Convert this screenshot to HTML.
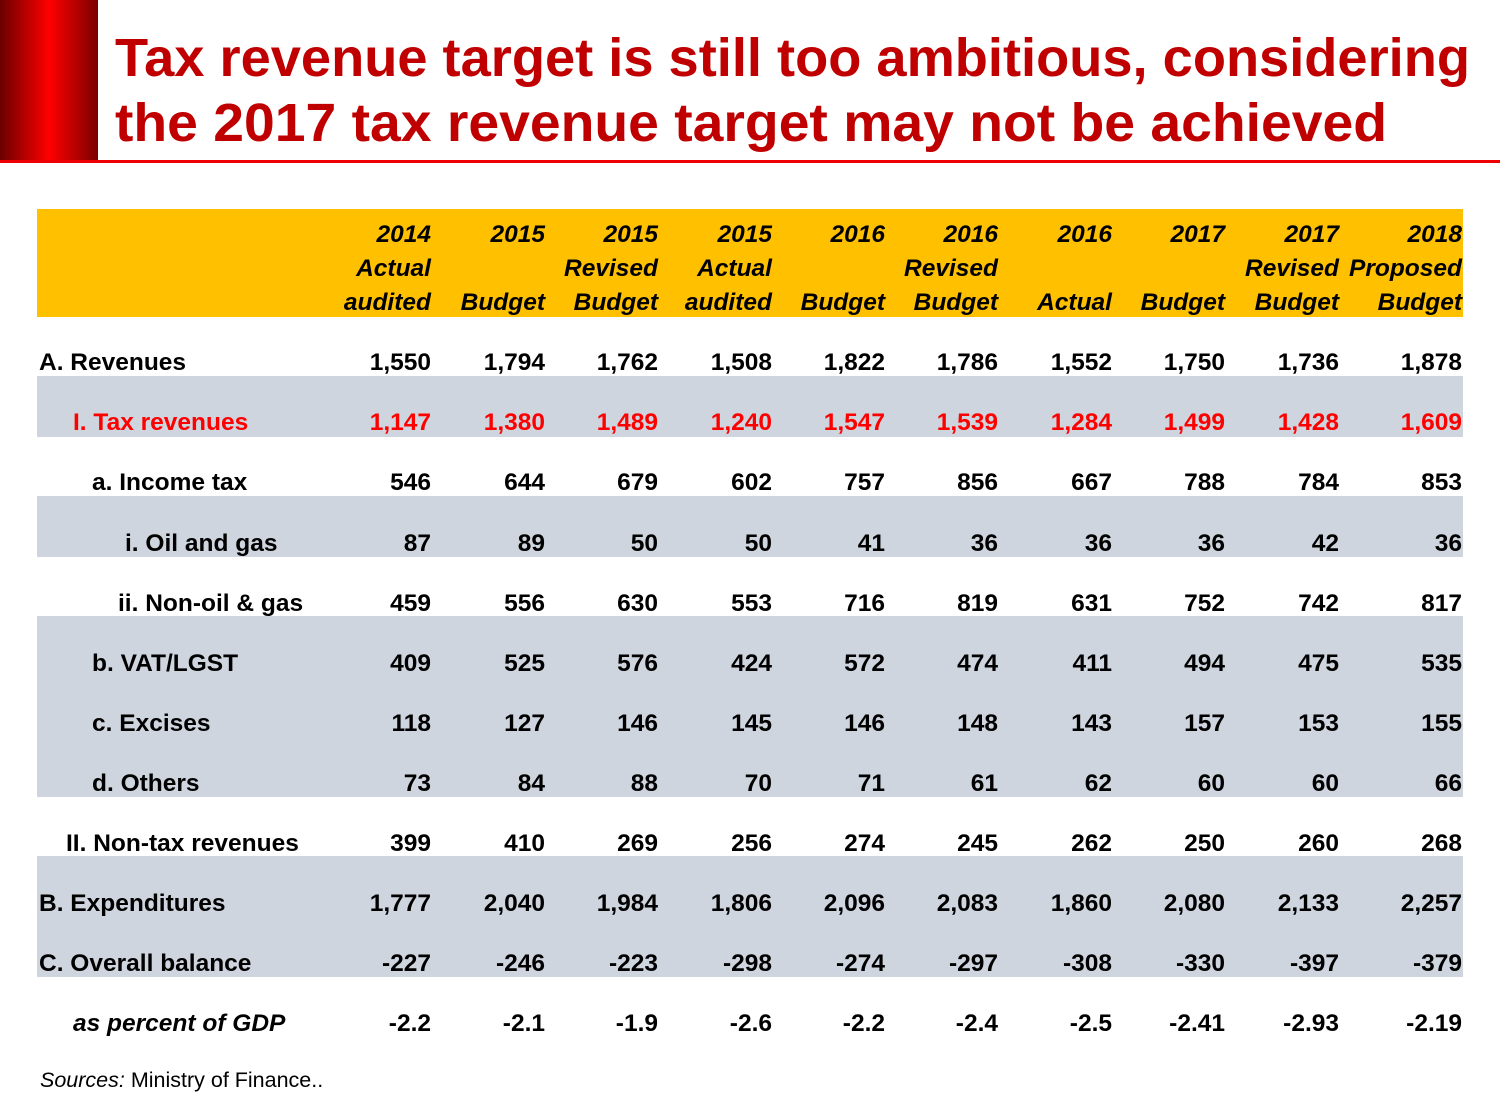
<!DOCTYPE html>
<html><head><meta charset="utf-8"><style>
html,body{margin:0;padding:0;background:#fff;}
svg{display:block;}
</style></head><body>
<svg width="1500" height="1100" viewBox="0 0 1500 1100" xmlns="http://www.w3.org/2000/svg" font-family="'Liberation Sans', sans-serif">
<defs>
<linearGradient id="rg" x1="0" x2="1" y1="0" y2="0">
<stop offset="0" stop-color="#6a0000"/>
<stop offset="0.5" stop-color="#ff0000"/>
<stop offset="1" stop-color="#7a0000"/>
</linearGradient>
</defs>
<rect x="0" y="0" width="98" height="162" fill="url(#rg)"/>
<rect x="0" y="160" width="1500" height="3" fill="#ee0000"/>
<g fill="#c00000" font-weight="bold" font-size="54">
<text x="115" y="76" textLength="1355" lengthAdjust="spacingAndGlyphs">Tax revenue target is still too ambitious, considering</text>
<text x="115" y="141" textLength="1272" lengthAdjust="spacingAndGlyphs">the 2017 tax revenue target may not be achieved</text>
</g>
<rect x="37" y="209" width="1426" height="108" fill="#ffc000"/>
<rect x="37" y="376" width="1426" height="61" fill="#cfd5de"/>
<rect x="37" y="496" width="1426" height="61" fill="#cfd5de"/>
<rect x="37" y="616" width="1426" height="181" fill="#cfd5de"/>
<rect x="37" y="856" width="1426" height="121" fill="#cfd5de"/>
<g font-weight="bold" font-style="italic" font-size="24.5" text-anchor="end" fill="#000">
<text x="431" y="242">2014</text><text x="431" y="276">Actual</text><text x="431" y="310">audited</text>
<text x="545" y="242">2015</text><text x="545" y="310">Budget</text>
<text x="658" y="242">2015</text><text x="658" y="276">Revised</text><text x="658" y="310">Budget</text>
<text x="772" y="242">2015</text><text x="772" y="276">Actual</text><text x="772" y="310">audited</text>
<text x="885" y="242">2016</text><text x="885" y="310">Budget</text>
<text x="998" y="242">2016</text><text x="998" y="276">Revised</text><text x="998" y="310">Budget</text>
<text x="1112" y="242">2016</text><text x="1112" y="310">Actual</text>
<text x="1225" y="242">2017</text><text x="1225" y="310">Budget</text>
<text x="1339" y="242">2017</text><text x="1339" y="276">Revised</text><text x="1339" y="310">Budget</text>
<text x="1462" y="242">2018</text><text x="1462" y="276">Proposed</text><text x="1462" y="310">Budget</text>
</g>
<g font-weight="bold" font-size="24.5" fill="#000">
<text x="39" y="370">A. Revenues</text>
<text x="73" y="430" fill="#ff0000">I. Tax revenues</text>
<text x="92" y="490">a. Income tax</text>
<text x="125" y="551">i. Oil and gas</text>
<text x="118" y="611">ii. Non-oil &amp; gas</text>
<text x="92" y="671">b. VAT/LGST</text>
<text x="92" y="731">c. Excises</text>
<text x="92" y="791">d. Others</text>
<text x="66" y="851">II. Non-tax revenues</text>
<text x="39" y="911">B. Expenditures</text>
<text x="39" y="971">C. Overall balance</text>
<text x="73" y="1031" font-style="italic">as percent of GDP</text>
</g>
<g font-weight="bold" font-size="24.5" fill="#000" text-anchor="end">
<g transform="translate(0,370)"><text x="431">1,550</text><text x="545">1,794</text><text x="658">1,762</text><text x="772">1,508</text><text x="885">1,822</text><text x="998">1,786</text><text x="1112">1,552</text><text x="1225">1,750</text><text x="1339">1,736</text><text x="1462">1,878</text></g>
<g transform="translate(0,430)" fill="#ff0000"><text x="431">1,147</text><text x="545">1,380</text><text x="658">1,489</text><text x="772">1,240</text><text x="885">1,547</text><text x="998">1,539</text><text x="1112">1,284</text><text x="1225">1,499</text><text x="1339">1,428</text><text x="1462">1,609</text></g>
<g transform="translate(0,490)"><text x="431">546</text><text x="545">644</text><text x="658">679</text><text x="772">602</text><text x="885">757</text><text x="998">856</text><text x="1112">667</text><text x="1225">788</text><text x="1339">784</text><text x="1462">853</text></g>
<g transform="translate(0,551)"><text x="431">87</text><text x="545">89</text><text x="658">50</text><text x="772">50</text><text x="885">41</text><text x="998">36</text><text x="1112">36</text><text x="1225">36</text><text x="1339">42</text><text x="1462">36</text></g>
<g transform="translate(0,611)"><text x="431">459</text><text x="545">556</text><text x="658">630</text><text x="772">553</text><text x="885">716</text><text x="998">819</text><text x="1112">631</text><text x="1225">752</text><text x="1339">742</text><text x="1462">817</text></g>
<g transform="translate(0,671)"><text x="431">409</text><text x="545">525</text><text x="658">576</text><text x="772">424</text><text x="885">572</text><text x="998">474</text><text x="1112">411</text><text x="1225">494</text><text x="1339">475</text><text x="1462">535</text></g>
<g transform="translate(0,731)"><text x="431">118</text><text x="545">127</text><text x="658">146</text><text x="772">145</text><text x="885">146</text><text x="998">148</text><text x="1112">143</text><text x="1225">157</text><text x="1339">153</text><text x="1462">155</text></g>
<g transform="translate(0,791)"><text x="431">73</text><text x="545">84</text><text x="658">88</text><text x="772">70</text><text x="885">71</text><text x="998">61</text><text x="1112">62</text><text x="1225">60</text><text x="1339">60</text><text x="1462">66</text></g>
<g transform="translate(0,851)"><text x="431">399</text><text x="545">410</text><text x="658">269</text><text x="772">256</text><text x="885">274</text><text x="998">245</text><text x="1112">262</text><text x="1225">250</text><text x="1339">260</text><text x="1462">268</text></g>
<g transform="translate(0,911)"><text x="431">1,777</text><text x="545">2,040</text><text x="658">1,984</text><text x="772">1,806</text><text x="885">2,096</text><text x="998">2,083</text><text x="1112">1,860</text><text x="1225">2,080</text><text x="1339">2,133</text><text x="1462">2,257</text></g>
<g transform="translate(0,971)"><text x="431">-227</text><text x="545">-246</text><text x="658">-223</text><text x="772">-298</text><text x="885">-274</text><text x="998">-297</text><text x="1112">-308</text><text x="1225">-330</text><text x="1339">-397</text><text x="1462">-379</text></g>
<g transform="translate(0,1031)"><text x="431">-2.2</text><text x="545">-2.1</text><text x="658">-1.9</text><text x="772">-2.6</text><text x="885">-2.2</text><text x="998">-2.4</text><text x="1112">-2.5</text><text x="1225">-2.41</text><text x="1339">-2.93</text><text x="1462">-2.19</text></g>
</g>
<text x="40" y="1087" font-size="21.5" fill="#000"><tspan font-style="italic">Sources:</tspan> Ministry of Finance..</text>
</svg>
</body></html>
